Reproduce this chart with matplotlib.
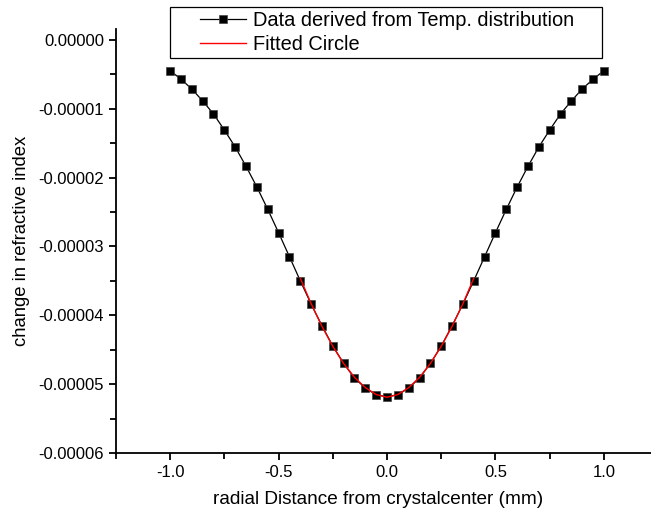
import numpy as np
import matplotlib.pyplot as plt
from matplotlib.patches import Rectangle
from matplotlib.ticker import FormatStrFormatter, MultipleLocator

plt.rcParams['font.family'] = ['Liberation Sans', 'DejaVu Sans']
plt.rcParams['axes.unicode_minus'] = False

# data (values in 1e-5)
x_data = [-1.00, -0.95, -0.90, -0.85, -0.80, -0.75, -0.70, -0.65, -0.60, -0.55,
          -0.50, -0.45, -0.40, -0.35, -0.30, -0.25, -0.20, -0.15, -0.10, -0.05,
          0.00, 0.05, 0.10, 0.15, 0.20, 0.25, 0.30, 0.35, 0.40, 0.45,
          0.50, 0.55, 0.60, 0.65, 0.70, 0.75, 0.80, 0.85, 0.90, 0.95, 1.00]
y_data = [-0.446, -0.571, -0.712, -0.886, -1.075, -1.308, -1.555, -1.835, -2.136, -2.460,
          -2.799, -3.148, -3.497, -3.836, -4.151, -4.446, -4.697, -4.911, -5.056, -5.153,
          -5.182, -5.153, -5.056, -4.911, -4.697, -4.446, -4.151, -3.836, -3.497, -3.148,
          -2.799, -2.460, -2.136, -1.835, -1.555, -1.308, -1.075, -0.886, -0.712, -0.571, -0.446]

x_fit = [-0.40, -0.35, -0.30, -0.25, -0.20, -0.15, -0.10, -0.05, 0.00,
         0.05, 0.10, 0.15, 0.20, 0.25, 0.30, 0.35, 0.40]
y_fit = [-3.46, -3.83, -4.16, -4.45, -4.70, -4.90, -5.05, -5.15, -5.19,
         -5.15, -5.05, -4.90, -4.70, -4.45, -4.16, -3.83, -3.46]

scale = 1e-5
W, H = 651, 516

fig = plt.figure(figsize=(6.51, 5.16), dpi=100)
ax = fig.add_axes([0.178, 0.122, 0.833, 0.822])

ax.plot(x_data, np.array(y_data) * scale, color='black', lw=0.9, marker='s',
        markersize=6, markerfacecolor='black', markeredgecolor='#444444',
        markeredgewidth=0.5, label='Data derived from Temp. distribution')
ax.plot(x_fit, np.array(y_fit) * scale, color='red', lw=1.0, label='Fitted Circle')

ax.set_xlim(-1.25, 1.25)
ax.set_ylim(-6e-5, 0.16e-5)

ax.spines['top'].set_visible(False)
ax.spines['right'].set_visible(False)
ax.spines['left'].set_linewidth(1.3)
ax.spines['bottom'].set_linewidth(1.3)

ax.xaxis.set_major_locator(MultipleLocator(0.5))
ax.xaxis.set_minor_locator(MultipleLocator(0.25))
ax.yaxis.set_major_locator(MultipleLocator(1e-5))
ax.yaxis.set_minor_locator(MultipleLocator(0.5e-5))
ax.xaxis.set_major_formatter(FormatStrFormatter('%.1f'))
ax.yaxis.set_major_formatter(FormatStrFormatter('%.5f'))
ax.tick_params(which='major', direction='out', length=5, width=1.3, labelsize=12)
ax.tick_params(which='minor', direction='out', length=4, width=1.3)
ax.yaxis.get_offset_text().set_visible(False)

ax.set_xlabel('radial Distance from crystalcenter (mm)', fontsize=13.7, labelpad=8)
ax.xaxis.set_label_coords(0.483, -0.09)
ax.set_ylabel('change in refractive index', fontsize=13.3, labelpad=6)

# legend without its own frame, box drawn separately (wider side padding)
leg = fig.legend(loc='upper left', bbox_to_anchor=(200 / W, 1 - 11 / H), fontsize=14.4,
                 frameon=False, handlelength=2.3, borderpad=0, labelspacing=0.25,
                 handletextpad=0.35, borderaxespad=0)
fig.add_artist(Rectangle((170 / W, 1 - 58 / H), 432 / W, 51 / H, transform=fig.transFigure,
                         fill=False, edgecolor='black', linewidth=0.9))

fig.savefig('out.png', dpi=100)
